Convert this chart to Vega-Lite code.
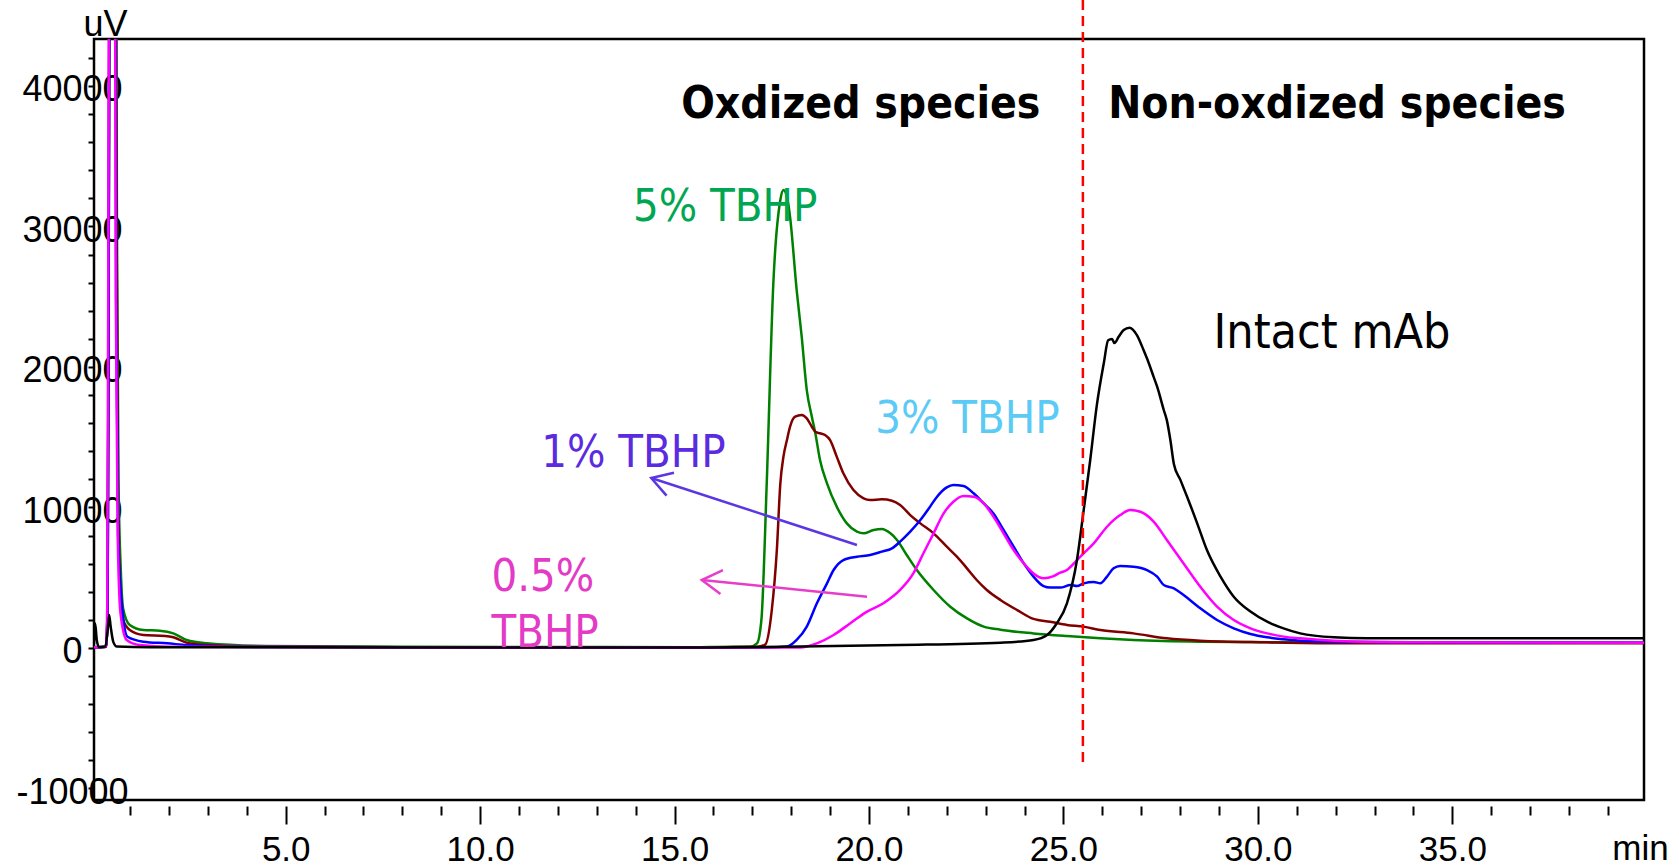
{
  "$schema": "https://vega.github.io/schema/vega-lite/v6.json",
  "width": 1550,
  "height": 761,
  "autosize": {"type": "none"},
  "padding": {"left": 94, "top": 39, "right": 35, "bottom": 66},
  "background": "white",
  "config": {"view": {"stroke": "black", "strokeWidth": 2.5}},
  "datasets": {
    "traces": [
      {"s":"5% TBHP","t":0.07,"v":50},{"s":"5% TBHP","t":0.38,"v":80},{"s":"5% TBHP","t":0.42,"v":3000},{"s":"5% TBHP","t":0.45,"v":30000},{"s":"5% TBHP","t":0.48,"v":60000},{"s":"5% TBHP","t":0.63,"v":60000},{"s":"5% TBHP","t":0.66,"v":30000},{"s":"5% TBHP","t":0.70,"v":12000},{"s":"5% TBHP","t":0.76,"v":5500},{"s":"5% TBHP","t":0.82,"v":2800},{"s":"5% TBHP","t":0.99,"v":1640},{"s":"5% TBHP","t":1.34,"v":1280},{"s":"5% TBHP","t":1.76,"v":1230},{"s":"5% TBHP","t":2.11,"v":1045},{"s":"5% TBHP","t":2.45,"v":570},{"s":"5% TBHP","t":2.97,"v":330},{"s":"5% TBHP","t":4.51,"v":140},{"s":"5% TBHP","t":8,"v":90},{"s":"5% TBHP","t":12,"v":70},{"s":"5% TBHP","t":15.66,"v":60},{"s":"5% TBHP","t":16.52,"v":80},{"s":"5% TBHP","t":16.94,"v":95},{"s":"5% TBHP","t":17.12,"v":330},{"s":"5% TBHP","t":17.2,"v":1200},{"s":"5% TBHP","t":17.24,"v":2230},{"s":"5% TBHP","t":17.37,"v":11720},{"s":"5% TBHP","t":17.54,"v":25960},{"s":"5% TBHP","t":17.72,"v":31880},{"s":"5% TBHP","t":17.8,"v":32590},{"s":"5% TBHP","t":17.93,"v":31500},{"s":"5% TBHP","t":17.97,"v":30690},{"s":"5% TBHP","t":18.14,"v":25480},{"s":"5% TBHP","t":18.27,"v":22150},{"s":"5% TBHP","t":18.4,"v":18360},{"s":"5% TBHP","t":18.53,"v":16460},{"s":"5% TBHP","t":18.62,"v":15280},{"s":"5% TBHP","t":18.74,"v":13380},{"s":"5% TBHP","t":18.92,"v":11720},{"s":"5% TBHP","t":19.17,"v":10060},{"s":"5% TBHP","t":19.43,"v":8870},{"s":"5% TBHP","t":19.69,"v":8280},{"s":"5% TBHP","t":19.86,"v":8160},{"s":"5% TBHP","t":20.12,"v":8400},{"s":"5% TBHP","t":20.33,"v":8470},{"s":"5% TBHP","t":20.55,"v":8160},{"s":"5% TBHP","t":20.72,"v":7690},{"s":"5% TBHP","t":20.97,"v":6620},{"s":"5% TBHP","t":21.23,"v":5550},{"s":"5% TBHP","t":21.66,"v":4130},{"s":"5% TBHP","t":22.09,"v":2940},{"s":"5% TBHP","t":22.52,"v":2110},{"s":"5% TBHP","t":22.95,"v":1520},{"s":"5% TBHP","t":23.38,"v":1300},{"s":"5% TBHP","t":24.23,"v":1040},{"s":"5% TBHP","t":25.09,"v":850},{"s":"5% TBHP","t":25.95,"v":690},{"s":"5% TBHP","t":26.8,"v":570},{"s":"5% TBHP","t":28.52,"v":450},{"s":"5% TBHP","t":31,"v":400},{"s":"5% TBHP","t":36,"v":380},{"s":"5% TBHP","t":39.93,"v":380},
      {"s":"3% TBHP","t":0.07,"v":50},{"s":"3% TBHP","t":0.38,"v":80},{"s":"3% TBHP","t":0.42,"v":3000},{"s":"3% TBHP","t":0.45,"v":30000},{"s":"3% TBHP","t":0.48,"v":60000},{"s":"3% TBHP","t":0.62,"v":60000},{"s":"3% TBHP","t":0.65,"v":30000},{"s":"3% TBHP","t":0.69,"v":10000},{"s":"3% TBHP","t":0.75,"v":4000},{"s":"3% TBHP","t":0.82,"v":2000},{"s":"3% TBHP","t":0.99,"v":1280},{"s":"3% TBHP","t":1.34,"v":925},{"s":"3% TBHP","t":1.9,"v":854},{"s":"3% TBHP","t":2.11,"v":760},{"s":"3% TBHP","t":2.45,"v":380},{"s":"3% TBHP","t":2.97,"v":210},{"s":"3% TBHP","t":4.51,"v":80},{"s":"3% TBHP","t":8,"v":60},{"s":"3% TBHP","t":15.66,"v":50},{"s":"3% TBHP","t":17.12,"v":80},{"s":"3% TBHP","t":17.33,"v":240},{"s":"3% TBHP","t":17.5,"v":2700},{"s":"3% TBHP","t":17.63,"v":6970},{"s":"3% TBHP","t":17.72,"v":11720},{"s":"3% TBHP","t":17.8,"v":13620},{"s":"3% TBHP","t":17.89,"v":14800},{"s":"3% TBHP","t":17.97,"v":15750},{"s":"3% TBHP","t":18.1,"v":16460},{"s":"3% TBHP","t":18.27,"v":16580},{"s":"3% TBHP","t":18.4,"v":16340},{"s":"3% TBHP","t":18.53,"v":15750},{"s":"3% TBHP","t":18.62,"v":15390},{"s":"3% TBHP","t":18.74,"v":15280},{"s":"3% TBHP","t":18.87,"v":15160},{"s":"3% TBHP","t":19.0,"v":14800},{"s":"3% TBHP","t":19.17,"v":13620},{"s":"3% TBHP","t":19.34,"v":12430},{"s":"3% TBHP","t":19.6,"v":11240},{"s":"3% TBHP","t":19.86,"v":10650},{"s":"3% TBHP","t":20.03,"v":10530},{"s":"3% TBHP","t":20.33,"v":10580},{"s":"3% TBHP","t":20.59,"v":10480},{"s":"3% TBHP","t":20.8,"v":10180},{"s":"3% TBHP","t":21.06,"v":9460},{"s":"3% TBHP","t":21.32,"v":8870},{"s":"3% TBHP","t":21.66,"v":8160},{"s":"3% TBHP","t":22.0,"v":7210},{"s":"3% TBHP","t":22.26,"v":6500},{"s":"3% TBHP","t":22.52,"v":5670},{"s":"3% TBHP","t":22.77,"v":4840},{"s":"3% TBHP","t":23.03,"v":4130},{"s":"3% TBHP","t":23.38,"v":3420},{"s":"3% TBHP","t":23.81,"v":2700},{"s":"3% TBHP","t":24.23,"v":2070},{"s":"3% TBHP","t":24.66,"v":1870},{"s":"3% TBHP","t":25.09,"v":1640},{"s":"3% TBHP","t":25.52,"v":1520},{"s":"3% TBHP","t":25.95,"v":1280},{"s":"3% TBHP","t":26.8,"v":1040},{"s":"3% TBHP","t":27.66,"v":690},{"s":"3% TBHP","t":28.52,"v":520},{"s":"3% TBHP","t":30.24,"v":400},{"s":"3% TBHP","t":32,"v":330},{"s":"3% TBHP","t":39.93,"v":330},
      {"s":"1% TBHP","t":0.07,"v":50},{"s":"1% TBHP","t":0.38,"v":80},{"s":"1% TBHP","t":0.42,"v":3000},{"s":"1% TBHP","t":0.45,"v":30000},{"s":"1% TBHP","t":0.48,"v":60000},{"s":"1% TBHP","t":0.61,"v":60000},{"s":"1% TBHP","t":0.64,"v":25000},{"s":"1% TBHP","t":0.69,"v":8000},{"s":"1% TBHP","t":0.79,"v":3000},{"s":"1% TBHP","t":0.93,"v":800},{"s":"1% TBHP","t":1.34,"v":450},{"s":"1% TBHP","t":1.95,"v":330},{"s":"1% TBHP","t":2.45,"v":210},{"s":"1% TBHP","t":3.5,"v":80},{"s":"1% TBHP","t":8,"v":60},{"s":"1% TBHP","t":15.66,"v":40},{"s":"1% TBHP","t":17.37,"v":40},{"s":"1% TBHP","t":17.89,"v":100},{"s":"1% TBHP","t":18.14,"v":570},{"s":"1% TBHP","t":18.4,"v":1520},{"s":"1% TBHP","t":18.66,"v":3180},{"s":"1% TBHP","t":18.92,"v":4600},{"s":"1% TBHP","t":19.09,"v":5550},{"s":"1% TBHP","t":19.34,"v":6260},{"s":"1% TBHP","t":19.69,"v":6500},{"s":"1% TBHP","t":20.03,"v":6620},{"s":"1% TBHP","t":20.33,"v":6860},{"s":"1% TBHP","t":20.59,"v":7090},{"s":"1% TBHP","t":20.8,"v":7570},{"s":"1% TBHP","t":21.06,"v":8280},{"s":"1% TBHP","t":21.32,"v":9110},{"s":"1% TBHP","t":21.57,"v":10060},{"s":"1% TBHP","t":21.75,"v":10770},{"s":"1% TBHP","t":22.0,"v":11430},{"s":"1% TBHP","t":22.17,"v":11600},{"s":"1% TBHP","t":22.43,"v":11530},{"s":"1% TBHP","t":22.69,"v":11010},{"s":"1% TBHP","t":22.95,"v":10290},{"s":"1% TBHP","t":23.2,"v":9580},{"s":"1% TBHP","t":23.46,"v":8400},{"s":"1% TBHP","t":23.72,"v":7210},{"s":"1% TBHP","t":23.98,"v":6020},{"s":"1% TBHP","t":24.23,"v":5080},{"s":"1% TBHP","t":24.49,"v":4400},{"s":"1% TBHP","t":24.66,"v":4300},{"s":"1% TBHP","t":24.92,"v":4300},{"s":"1% TBHP","t":25.18,"v":4480},{"s":"1% TBHP","t":25.35,"v":4410},{"s":"1% TBHP","t":25.52,"v":4600},{"s":"1% TBHP","t":25.78,"v":4700},{"s":"1% TBHP","t":25.95,"v":4600},{"s":"1% TBHP","t":26.12,"v":5080},{"s":"1% TBHP","t":26.29,"v":5670},{"s":"1% TBHP","t":26.46,"v":5840},{"s":"1% TBHP","t":26.8,"v":5790},{"s":"1% TBHP","t":27.15,"v":5550},{"s":"1% TBHP","t":27.41,"v":5080},{"s":"1% TBHP","t":27.58,"v":4480},{"s":"1% TBHP","t":27.84,"v":4250},{"s":"1% TBHP","t":28.09,"v":3770},{"s":"1% TBHP","t":28.52,"v":2820},{"s":"1% TBHP","t":28.95,"v":1990},{"s":"1% TBHP","t":29.38,"v":1400},{"s":"1% TBHP","t":29.81,"v":1000},{"s":"1% TBHP","t":30.24,"v":760},{"s":"1% TBHP","t":30.66,"v":620},{"s":"1% TBHP","t":31.09,"v":520},{"s":"1% TBHP","t":31.95,"v":450},{"s":"1% TBHP","t":34,"v":400},{"s":"1% TBHP","t":39.93,"v":380},
      {"s":"0.5% TBHP","t":0.07,"v":50},{"s":"0.5% TBHP","t":0.38,"v":80},{"s":"0.5% TBHP","t":0.41,"v":3000},{"s":"0.5% TBHP","t":0.44,"v":30000},{"s":"0.5% TBHP","t":0.47,"v":60000},{"s":"0.5% TBHP","t":0.6,"v":60000},{"s":"0.5% TBHP","t":0.63,"v":25000},{"s":"0.5% TBHP","t":0.68,"v":8000},{"s":"0.5% TBHP","t":0.75,"v":2500},{"s":"0.5% TBHP","t":0.91,"v":570},{"s":"0.5% TBHP","t":1.25,"v":210},{"s":"0.5% TBHP","t":2.0,"v":80},{"s":"0.5% TBHP","t":8,"v":50},{"s":"0.5% TBHP","t":15.66,"v":30},{"s":"0.5% TBHP","t":18.23,"v":30},{"s":"0.5% TBHP","t":18.66,"v":330},{"s":"0.5% TBHP","t":19.09,"v":925},{"s":"0.5% TBHP","t":19.52,"v":1760},{"s":"0.5% TBHP","t":19.95,"v":2590},{"s":"0.5% TBHP","t":20.37,"v":3180},{"s":"0.5% TBHP","t":20.8,"v":4130},{"s":"0.5% TBHP","t":21.14,"v":5310},{"s":"0.5% TBHP","t":21.4,"v":6740},{"s":"0.5% TBHP","t":21.66,"v":8160},{"s":"0.5% TBHP","t":21.92,"v":9580},{"s":"0.5% TBHP","t":22.17,"v":10410},{"s":"0.5% TBHP","t":22.43,"v":10820},{"s":"0.5% TBHP","t":22.69,"v":10770},{"s":"0.5% TBHP","t":22.95,"v":10290},{"s":"0.5% TBHP","t":23.2,"v":9350},{"s":"0.5% TBHP","t":23.46,"v":8160},{"s":"0.5% TBHP","t":23.72,"v":6970},{"s":"0.5% TBHP","t":23.98,"v":6020},{"s":"0.5% TBHP","t":24.23,"v":5310},{"s":"0.5% TBHP","t":24.49,"v":4960},{"s":"0.5% TBHP","t":24.75,"v":5120},{"s":"0.5% TBHP","t":24.92,"v":5360},{"s":"0.5% TBHP","t":25.09,"v":5550},{"s":"0.5% TBHP","t":25.35,"v":6260},{"s":"0.5% TBHP","t":25.52,"v":6740},{"s":"0.5% TBHP","t":25.78,"v":7450},{"s":"0.5% TBHP","t":26.12,"v":8630},{"s":"0.5% TBHP","t":26.46,"v":9460},{"s":"0.5% TBHP","t":26.72,"v":9820},{"s":"0.5% TBHP","t":26.98,"v":9700},{"s":"0.5% TBHP","t":27.32,"v":9000},{"s":"0.5% TBHP","t":27.66,"v":7690},{"s":"0.5% TBHP","t":28.09,"v":6020},{"s":"0.5% TBHP","t":28.52,"v":4360},{"s":"0.5% TBHP","t":28.95,"v":2940},{"s":"0.5% TBHP","t":29.38,"v":1990},{"s":"0.5% TBHP","t":29.81,"v":1400},{"s":"0.5% TBHP","t":30.24,"v":1040},{"s":"0.5% TBHP","t":30.66,"v":810},{"s":"0.5% TBHP","t":31.09,"v":690},{"s":"0.5% TBHP","t":31.95,"v":520},{"s":"0.5% TBHP","t":34,"v":400},{"s":"0.5% TBHP","t":39.93,"v":380},
      {"s":"Intact mAb","t":0.07,"v":300},{"s":"Intact mAb","t":0.1,"v":1750},{"s":"Intact mAb","t":0.14,"v":600},{"s":"Intact mAb","t":0.2,"v":50},{"s":"Intact mAb","t":0.36,"v":100},{"s":"Intact mAb","t":0.42,"v":1200},{"s":"Intact mAb","t":0.46,"v":2350},{"s":"Intact mAb","t":0.5,"v":1500},{"s":"Intact mAb","t":0.57,"v":400},{"s":"Intact mAb","t":0.66,"v":100},{"s":"Intact mAb","t":1.5,"v":50},{"s":"Intact mAb","t":15.66,"v":40},{"s":"Intact mAb","t":18.23,"v":100},{"s":"Intact mAb","t":20.8,"v":210},{"s":"Intact mAb","t":23.38,"v":380},{"s":"Intact mAb","t":24.23,"v":570},{"s":"Intact mAb","t":24.58,"v":925},{"s":"Intact mAb","t":24.83,"v":1760},{"s":"Intact mAb","t":25.09,"v":3180},{"s":"Intact mAb","t":25.35,"v":6300},{"s":"Intact mAb","t":25.52,"v":9800},{"s":"Intact mAb","t":25.69,"v":13400},{"s":"Intact mAb","t":25.86,"v":17300},{"s":"Intact mAb","t":26.04,"v":20300},{"s":"Intact mAb","t":26.15,"v":21900},{"s":"Intact mAb","t":26.25,"v":22000},{"s":"Intact mAb","t":26.31,"v":21700},{"s":"Intact mAb","t":26.42,"v":22150},{"s":"Intact mAb","t":26.55,"v":22630},{"s":"Intact mAb","t":26.7,"v":22800},{"s":"Intact mAb","t":26.89,"v":22270},{"s":"Intact mAb","t":27.06,"v":21210},{"s":"Intact mAb","t":27.15,"v":20600},{"s":"Intact mAb","t":27.32,"v":19300},{"s":"Intact mAb","t":27.41,"v":18600},{"s":"Intact mAb","t":27.58,"v":16940},{"s":"Intact mAb","t":27.66,"v":16200},{"s":"Intact mAb","t":27.75,"v":14800},{"s":"Intact mAb","t":27.84,"v":13100},{"s":"Intact mAb","t":28.01,"v":11950},{"s":"Intact mAb","t":28.18,"v":10770},{"s":"Intact mAb","t":28.44,"v":8870},{"s":"Intact mAb","t":28.69,"v":6970},{"s":"Intact mAb","t":29.04,"v":5080},{"s":"Intact mAb","t":29.38,"v":3650},{"s":"Intact mAb","t":29.81,"v":2590},{"s":"Intact mAb","t":30.24,"v":1870},{"s":"Intact mAb","t":30.66,"v":1400},{"s":"Intact mAb","t":31.09,"v":1040},{"s":"Intact mAb","t":31.95,"v":760},{"s":"Intact mAb","t":32.81,"v":690},{"s":"Intact mAb","t":39.93,"v":690}
    ],
    "divider": [{"t": 25.5, "v": 46120, "v2": -8185}],
    "arrows": [
      {"a":"1%","t":19.69,"v":7330},{"a":"1%","t":14.4,"v":12100},
      {"a":"0.5%","t":19.95,"v":3650},{"a":"0.5%","t":15.7,"v":4840}
    ],
    "heads": [
      {"a":"1%","t":14.4,"v":12100},
      {"a":"0.5%","t":15.7,"v":4840}
    ],
    "annot": [
      {"label":"Oxdized species","t":15.17,"v":37720},
      {"label":"Non-oxdized species","t":26.15,"v":37720},
      {"label":"Intact mAb","t":28.86,"v":21350},
      {"label":"5% TBHP","t":13.93,"v":30390},
      {"label":"3% TBHP","t":20.16,"v":15300},
      {"label":"1% TBHP","t":11.57,"v":12880},
      {"label":"0.5%","t":10.29,"v":4060},
      {"label":"TBHP","t":10.29,"v":70}
    ]
  },
  "layer": [
    {
      "data": {"name": "traces"},
      "mark": {"type": "line", "clip": true, "strokeWidth": 2.5, "interpolate": "monotone"},
      "encoding": {
        "x": {
          "field": "t", "type": "quantitative",
          "scale": {"domain": [0.07, 39.93], "nice": false, "zero": false},
          "axis": {
            "orient": "bottom", "offset": 6, "domain": false, "grid": false,
            "values": [5, 10, 15, 20, 25, 30, 35],
            "tickSize": 18, "tickWidth": 2, "tickColor": "black",
            "format": ".1f",
            "labelFont": "Liberation Sans", "labelFontSize": 35, "labelColor": "black",
            "labelBaseline": "top", "labelPadding": 8,
            "labelFlush": false, "labelOverlap": false, "labelBound": false,
            "title": "min", "titleFont": "Liberation Sans", "titleFontSize": 35, "titleFontWeight": "normal", "titleColor": "black",
            "titleX": 1546, "titleY": 53, "titleAlign": "center", "titleBaseline": "alphabetic"
          }
        },
        "y": {
          "field": "v", "type": "quantitative",
          "scale": {"domain": [-10819, 43345], "nice": false, "zero": false},
          "axis": {
            "orient": "left", "domain": false, "grid": false,
            "values": [-10000, 0, 10000, 20000, 30000, 40000],
            "tickSize": 6, "tickWidth": 2, "tickColor": "black",
            "labelExpr": "'' + datum.value",
            "labelFont": "Liberation Sans", "labelFontSize": 36, "labelColor": "black",
            "labelAlign": "center", "labelBaseline": "middle", "labelPadding": 16, "labelOffset": 4,
            "labelFlush": false, "labelOverlap": false, "labelBound": false,
            "title": "uV", "titleFont": "Liberation Sans", "titleFontSize": 36, "titleFontWeight": "normal", "titleColor": "black",
            "titleAngle": 0, "titleX": 11, "titleY": -4, "titleAlign": "center", "titleBaseline": "alphabetic"
          }
        },
        "color": {
          "field": "s", "type": "nominal", "legend": null,
          "scale": {"domain": ["5% TBHP", "3% TBHP", "1% TBHP", "0.5% TBHP", "Intact mAb"], "range": ["#008000", "#800000", "#0000FF", "#FF00FF", "#000000"]}
        }
      }
    },
    {
      "data": {"name": "divider"},
      "mark": {"type": "rule", "color": "#FF0000", "strokeWidth": 2.5, "strokeDash": [10, 6], "clip": false},
      "encoding": {
        "x": {
          "field": "t", "type": "quantitative",
          "axis": {
            "orient": "bottom", "offset": 6, "domain": false, "grid": false, "labels": false, "title": null,
            "values": [1,2,3,4,6,7,8,9,11,12,13,14,16,17,18,19,21,22,23,24,26,27,28,29,31,32,33,34,36,37,38,39],
            "tickSize": 9, "tickWidth": 2, "tickColor": "black"
          }
        },
        "y": {
          "field": "v", "type": "quantitative",
          "axis": {
            "orient": "left", "domain": false, "grid": false, "labels": false, "title": null,
            "values": [-8000,-6000,-4000,-2000,2000,4000,6000,8000,12000,14000,16000,18000,22000,24000,26000,28000,32000,34000,36000,38000,42000],
            "tickSize": 6, "tickWidth": 2, "tickColor": "black"
          }
        },
        "y2": {"field": "v2"}
      }
    },
    {
      "data": {"name": "arrows"},
      "mark": {"type": "line", "strokeWidth": 2.5, "clip": false},
      "encoding": {
        "x": {"field": "t", "type": "quantitative", "axis": null},
        "y": {"field": "v", "type": "quantitative", "axis": null},
        "color": {"field": "a", "type": "nominal", "legend": null, "scale": {"domain": ["1%", "0.5%"], "range": ["#5B36E3", "#E63EC8"]}}
      }
    },
    {
      "data": {"name": "heads"},
      "transform": [{"filter": "datum.a === '1%'"}],
      "mark": {"type": "point", "shape": "M1,-0.6L0,0L1,0.6", "filled": false, "size": 1600, "strokeWidth": 2.5, "angle": 18, "color": "#5B36E3", "opacity": 1},
      "encoding": {
        "x": {"field": "t", "type": "quantitative", "axis": null},
        "y": {"field": "v", "type": "quantitative", "axis": null}
      }
    },
    {
      "data": {"name": "heads"},
      "transform": [{"filter": "datum.a === '0.5%'"}],
      "mark": {"type": "point", "shape": "M1,-0.6L0,0L1,0.6", "filled": false, "size": 1600, "strokeWidth": 2.5, "angle": 6, "color": "#E63EC8", "opacity": 1},
      "encoding": {
        "x": {"field": "t", "type": "quantitative", "axis": null},
        "y": {"field": "v", "type": "quantitative", "axis": null}
      }
    },
    {
      "data": {"name": "annot"},
      "transform": [{"filter": "datum.label === 'Oxdized species' || datum.label === 'Non-oxdized species'"}],
      "mark": {"type": "text", "align": "left", "baseline": "alphabetic", "font": "DejaVu Sans Condensed", "fontSize": 44, "fontWeight": "bold", "color": "black"},
      "encoding": {
        "x": {"field": "t", "type": "quantitative", "axis": null},
        "y": {"field": "v", "type": "quantitative", "axis": null},
        "text": {"field": "label"}
      }
    },
    {
      "data": {"name": "annot"},
      "transform": [{"filter": "datum.label === 'Intact mAb'"}],
      "mark": {"type": "text", "align": "left", "baseline": "alphabetic", "font": "DejaVu Sans Condensed", "fontSize": 48, "color": "black"},
      "encoding": {
        "x": {"field": "t", "type": "quantitative", "axis": null},
        "y": {"field": "v", "type": "quantitative", "axis": null},
        "text": {"field": "label"}
      }
    },
    {
      "data": {"name": "annot"},
      "transform": [{"filter": "indexof(['5% TBHP', '3% TBHP', '1% TBHP', '0.5%', 'TBHP'], datum.label) >= 0"}],
      "mark": {"type": "text", "align": "left", "baseline": "alphabetic", "font": "DejaVu Sans Condensed", "fontSize": 45},
      "encoding": {
        "x": {"field": "t", "type": "quantitative", "axis": null},
        "y": {"field": "v", "type": "quantitative", "axis": null},
        "text": {"field": "label"},
        "color": {"field": "label", "type": "nominal", "legend": null, "scale": {"domain": ["5% TBHP", "3% TBHP", "1% TBHP", "0.5%", "TBHP"], "range": ["#00A651", "#5BCBF5", "#5B2BE0", "#E33BC6", "#E33BC6"]}}
      }
    }
  ],
  "resolve": {"scale": {"color": "independent"}, "axis": {"x": "independent", "y": "independent"}}
}
